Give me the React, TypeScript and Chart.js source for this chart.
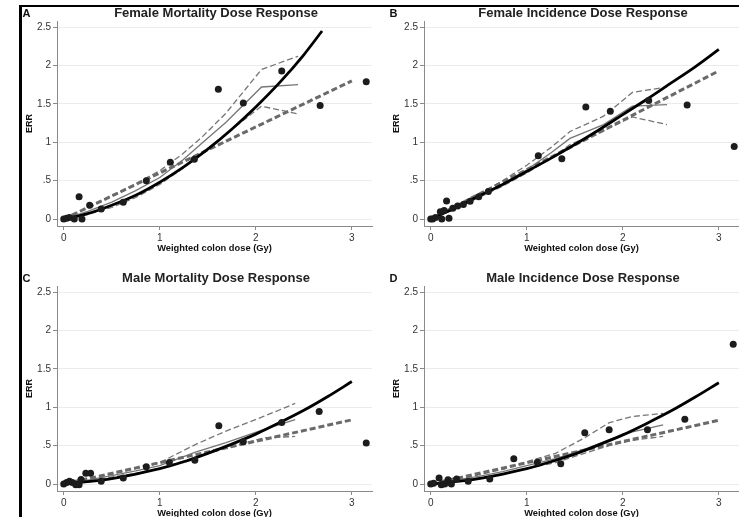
import React, { useEffect, useRef } from 'react';
import { Chart, registerables } from 'chart.js';

Chart.register(...registerables);
Chart.defaults.font.family = '"Liberation Sans", Arial, Helvetica, sans-serif';

// ---- axis / text ----
const X_TICKS = [0, 1, 2, 3];
const X_TICK_LABELS = ['0', '1', '2', '3'];
const Y_TICKS = [0, 0.5, 1, 1.5, 2, 2.5];
const Y_TICK_LABELS = ['0', '.5', '1', '1.5', '2', '2.5'];
const X_AXIS_TITLE = 'Weighted colon dose (Gy)';
const Y_AXIS_TITLE = 'ERR';
const PANEL_LETTERS = ['A', 'B', 'C', 'D'];
const PANEL_TITLES = [
  'Female Mortality Dose Response',
  'Female Incidence Dose Response',
  'Male Mortality Dose Response',
  'Male Incidence Dose Response',
];

// ---- A: Female mortality ----
const A_PTS_X = [0.0, 0.03, 0.06, 0.11, 0.16, 0.19, 0.27, 0.39, 0.62, 0.86, 1.11, 1.36, 1.61, 1.87, 2.27, 2.67, 3.15];
const A_PTS_Y = [0.0, 0.01, 0.02, 0.0, 0.29, 0.0, 0.18, 0.13, 0.22, 0.5, 0.74, 0.78, 1.69, 1.51, 1.93, 1.48, 1.79];
const A_LQ_X = [0, 0.25, 0.5, 0.75, 1, 1.25, 1.5, 1.75, 2, 2.25, 2.5, 2.69];
const A_LQ_Y = [0, 0.07, 0.18, 0.31, 0.48, 0.68, 0.91, 1.17, 1.46, 1.78, 2.14, 2.45];
const A_LIN_X = [0, 3.0];
const A_LIN_Y = [0, 1.8];
const A_SM_X = [0, 0.25, 0.5, 0.75, 1.0, 1.24, 1.45, 1.69, 2.06, 2.44];
const A_SM_Y = [0, 0.1, 0.22, 0.37, 0.54, 0.77, 1.0, 1.26, 1.72, 1.75];
const A_UP_Y = [0, 0.14, 0.3, 0.46, 0.63, 0.85, 1.08, 1.38, 1.95, 2.12];
const A_LO_Y = [0, 0.06, 0.15, 0.28, 0.45, 0.66, 0.86, 1.11, 1.47, 1.37];

// ---- B: Female incidence ----
const B_PTS_X = [0.0, 0.02, 0.05, 0.1, 0.115, 0.14, 0.165, 0.19, 0.23, 0.28, 0.34, 0.41, 0.5, 0.6, 1.12, 1.365, 1.615, 1.87, 2.27, 2.67, 3.16];
const B_PTS_Y = [0.0, 0.0, 0.02, 0.095, 0.0, 0.11, 0.235, 0.01, 0.14, 0.17, 0.19, 0.23, 0.29, 0.36, 0.825, 0.785, 1.46, 1.405, 1.545, 1.485, 0.945];
const B_LQ_X = [0, 0.25, 0.5, 0.75, 1, 1.25, 1.5, 1.75, 2, 2.25, 2.5, 2.75, 3];
const B_LQ_Y = [0, 0.14, 0.3, 0.45, 0.62, 0.79, 0.97, 1.16, 1.36, 1.56, 1.77, 1.98, 2.21];
const B_LIN_X = [0, 3.0];
const B_LIN_Y = [0, 1.93];
const B_SM_X = [0, 0.25, 0.5, 0.75, 1.0, 1.25, 1.45, 1.8, 2.1, 2.46];
const B_SM_Y = [0, 0.15, 0.3, 0.46, 0.64, 0.86, 1.05, 1.23, 1.47, 1.49];
const B_UP_Y = [0, 0.16, 0.32, 0.5, 0.7, 0.93, 1.14, 1.34, 1.65, 1.72];
const B_LO_Y = [0, 0.13, 0.28, 0.43, 0.6, 0.79, 0.97, 1.15, 1.33, 1.23];

// ---- C: Male mortality ----
const C_PTS_X = [0.0, 0.03, 0.06, 0.09, 0.125, 0.16, 0.18, 0.23, 0.28, 0.39, 0.62, 0.86, 1.1, 1.365, 1.615, 1.87, 2.27, 2.66, 3.15];
const C_PTS_Y = [0.0, 0.02, 0.035, 0.02, -0.01, -0.01, 0.06, 0.14, 0.14, 0.035, 0.08, 0.225, 0.28, 0.31, 0.76, 0.55, 0.8, 0.945, 0.535];
const C_LQ_X = [0, 0.25, 0.5, 0.75, 1, 1.25, 1.5, 1.75, 2, 2.25, 2.5, 2.75, 3];
const C_LQ_Y = [0, 0.03, 0.07, 0.13, 0.2, 0.29, 0.4, 0.52, 0.65, 0.8, 0.96, 1.14, 1.335];
const C_LIN_X = [0, 3.0];
const C_LIN_Y = [0, 0.836];
const C_SM_X = [0, 0.25, 0.5, 0.75, 1.0, 1.38, 1.69, 2.08, 2.41];
const C_SM_Y = [0, 0.05, 0.11, 0.17, 0.24, 0.42, 0.54, 0.71, 0.84];
const C_UP_Y = [0, 0.06, 0.13, 0.2, 0.28, 0.52, 0.69, 0.88, 1.05];
const C_LO_Y = [0, 0.04, 0.09, 0.14, 0.2, 0.35, 0.47, 0.6, 0.62];

// ---- D: Male incidence ----
const D_PTS_X = [0.0, 0.03, 0.087, 0.11, 0.146, 0.18, 0.215, 0.27, 0.39, 0.615, 0.865, 1.11, 1.354, 1.604, 1.858, 2.257, 2.646, 3.15];
const D_PTS_Y = [0.0, 0.01, 0.078, -0.01, 0.0, 0.056, 0.0, 0.065, 0.035, 0.065, 0.328, 0.285, 0.263, 0.668, 0.707, 0.707, 0.845, 1.82];
const D_LQ_X = [0, 0.25, 0.5, 0.75, 1, 1.25, 1.5, 1.75, 2, 2.25, 2.5, 2.75, 3];
const D_LQ_Y = [0, 0.03, 0.07, 0.13, 0.2, 0.29, 0.39, 0.51, 0.64, 0.79, 0.95, 1.13, 1.32];
const D_LIN_X = [0, 3.0];
const D_LIN_Y = [0, 0.83];
const D_SM_X = [0, 0.25, 0.5, 0.75, 1.0, 1.3, 1.6, 1.86, 2.1, 2.42];
const D_SM_Y = [0, 0.05, 0.1, 0.16, 0.24, 0.33, 0.45, 0.58, 0.68, 0.77];
const D_UP_Y = [0, 0.06, 0.12, 0.19, 0.29, 0.4, 0.6, 0.8, 0.88, 0.92];
const D_LO_Y = [0, 0.04, 0.08, 0.13, 0.2, 0.28, 0.4, 0.5, 0.57, 0.62];

const zip = (xs: number[], ys: number[]) => xs.map((x, i) => ({ x, y: ys[i] }));

const PANELS = [
  { ptsX: A_PTS_X, ptsY: A_PTS_Y, lqX: A_LQ_X, lqY: A_LQ_Y, linX: A_LIN_X, linY: A_LIN_Y, smX: A_SM_X, smY: A_SM_Y, upY: A_UP_Y, loY: A_LO_Y },
  { ptsX: B_PTS_X, ptsY: B_PTS_Y, lqX: B_LQ_X, lqY: B_LQ_Y, linX: B_LIN_X, linY: B_LIN_Y, smX: B_SM_X, smY: B_SM_Y, upY: B_UP_Y, loY: B_LO_Y },
  { ptsX: C_PTS_X, ptsY: C_PTS_Y, lqX: C_LQ_X, lqY: C_LQ_Y, linX: C_LIN_X, linY: C_LIN_Y, smX: C_SM_X, smY: C_SM_Y, upY: C_UP_Y, loY: C_LO_Y },
  { ptsX: D_PTS_X, ptsY: D_PTS_Y, lqX: D_LQ_X, lqY: D_LQ_Y, linX: D_LIN_X, linY: D_LIN_Y, smX: D_SM_X, smY: D_SM_Y, upY: D_UP_Y, loY: D_LO_Y },
];

const POSITIONS = [
  { left: 0, top: 0 },
  { left: 367, top: 0 },
  { left: 0, top: 265 },
  { left: 367, top: 265 },
];

const CW = 380;
const CH = 260;

const panelText = {
  id: 'panelText',
  afterDraw(chart: any, _args: any, opts: any) {
    const ctx = chart.ctx;
    const { left, right } = chart.chartArea;
    ctx.save();
    ctx.fillStyle = '#111';
    ctx.textBaseline = 'middle';
    ctx.textAlign = 'left';
    ctx.font = 'bold 11px "Liberation Sans", Arial, sans-serif';
    ctx.fillText(opts.letter, 22.5, 14);
    ctx.fillStyle = '#222';
    ctx.textAlign = 'center';
    ctx.font = 'bold 13px "Liberation Sans", Arial, sans-serif';
    ctx.fillText(opts.title, (left + right) / 2 + 1.5, 13.5);
    ctx.restore();
  },
};

function Panel({ idx }: { idx: number }) {
  const ref = useRef<HTMLCanvasElement>(null);
  const p = PANELS[idx];
  const pos = POSITIONS[idx];
  useEffect(() => {
    if (!ref.current) return;
    const thinGray = '#767676';
    const chart = new Chart(ref.current, {
      type: 'scatter',
      data: {
        datasets: [
          {
            label: 'ERR by dose group',
            data: zip(p.ptsX, p.ptsY),
            pointRadius: 3.5,
            pointBackgroundColor: '#1c1c1c',
            pointBorderColor: '#1c1c1c',
            pointBorderWidth: 0,
            showLine: false,
          },
          {
            label: 'Linear-quadratic fit',
            data: zip(p.lqX, p.lqY),
            showLine: true,
            pointRadius: 0,
            borderColor: '#000',
            borderWidth: 2.8,
            cubicInterpolationMode: 'monotone',
          },
          {
            label: 'Linear fit',
            data: zip(p.linX, p.linY),
            showLine: true,
            pointRadius: 0,
            borderColor: '#6a6a6a',
            borderWidth: 3,
            borderDash: [6, 3],
          },
          {
            label: 'Smoothed',
            data: zip(p.smX, p.smY),
            showLine: true,
            pointRadius: 0,
            borderColor: thinGray,
            borderWidth: 1.3,
          },
          {
            label: 'Upper CI',
            data: zip(p.smX, p.upY),
            showLine: true,
            pointRadius: 0,
            borderColor: thinGray,
            borderWidth: 1.3,
            borderDash: [6, 3],
          },
          {
            label: 'Lower CI',
            data: zip(p.smX, p.loY),
            showLine: true,
            pointRadius: 0,
            borderColor: thinGray,
            borderWidth: 1.3,
            borderDash: [6, 3],
          },
        ],
      },
      options: {
        responsive: false,
        animation: false,
        devicePixelRatio: 1,
        layout: { padding: { left: 0, right: CW - 372, top: 21, bottom: 0 } },
        plugins: {
          legend: { display: false },
          tooltip: { enabled: false },
          title: { display: false },
          panelText: { letter: PANEL_LETTERS[idx], title: PANEL_TITLES[idx] },
        } as any,
        scales: {
          x: {
            type: 'linear',
            min: -0.07,
            max: 3.21,
            afterFit: (s: any) => { s.height = 34; },
            afterBuildTicks: (s: any) => { s.ticks = X_TICKS.map((v) => ({ value: v })); },
            ticks: {
              includeBounds: false,
              maxRotation: 0,
              padding: 2.5,
              color: '#333',
              font: { size: 10 },
              callback: (v: any) => { const i = X_TICKS.indexOf(Number(v)); return i >= 0 ? X_TICK_LABELS[i] : ''; },
            },
            grid: { display: true, drawOnChartArea: false, drawTicks: true, tickLength: 4, tickColor: '#8a8a8a', color: '#8a8a8a' },
            border: { display: true, color: '#8a8a8a', width: 1 },
            title: { display: true, text: X_AXIS_TITLE, color: '#111', font: { size: 9.3, weight: 'bold' }, padding: { top: 0, bottom: 6 } },
          },
          y: {
            type: 'linear',
            min: -0.091,
            max: 2.58,
            afterFit: (s: any) => { s.width = 57; },
            afterBuildTicks: (s: any) => { s.ticks = Y_TICKS.map((v) => ({ value: v })); },
            ticks: {
              includeBounds: false,
              padding: 2,
              color: '#333',
              font: { size: 10 },
              callback: (v: any) => { const i = Y_TICKS.indexOf(Number(v)); return i >= 0 ? Y_TICK_LABELS[i] : ''; },
            },
            grid: { display: true, drawOnChartArea: true, drawTicks: true, tickLength: 4, tickColor: '#8a8a8a', color: '#ebebeb', lineWidth: 1 },
            border: { display: true, color: '#8a8a8a', width: 1 },
            title: { display: true, text: Y_AXIS_TITLE, color: '#111', font: { size: 9, weight: 'bold' }, padding: { top: 24.6, bottom: 0 } },
          },
        },
      } as any,
      plugins: [panelText as any],
    });
    return () => chart.destroy();
  }, []);
  return (
    <canvas
      ref={ref}
      width={CW}
      height={CH}
      style={{ position: 'absolute', left: pos.left, top: pos.top, width: CW, height: CH }}
    />
  );
}

export default function App() {
  return (
    <div style={{ position: 'fixed', left: 0, top: 0, width: 739, height: 517, overflow: 'hidden', background: '#fff' }}>
      <div
        style={{
          position: 'absolute', left: 19, top: 5, width: 760, height: 560,
          borderTop: '2px solid #000', borderLeft: '3px solid #000', boxSizing: 'border-box',
        }}
      />
      {[0, 1, 2, 3].map((i) => (
        <Panel key={i} idx={i} />
      ))}
    </div>
  );
}
